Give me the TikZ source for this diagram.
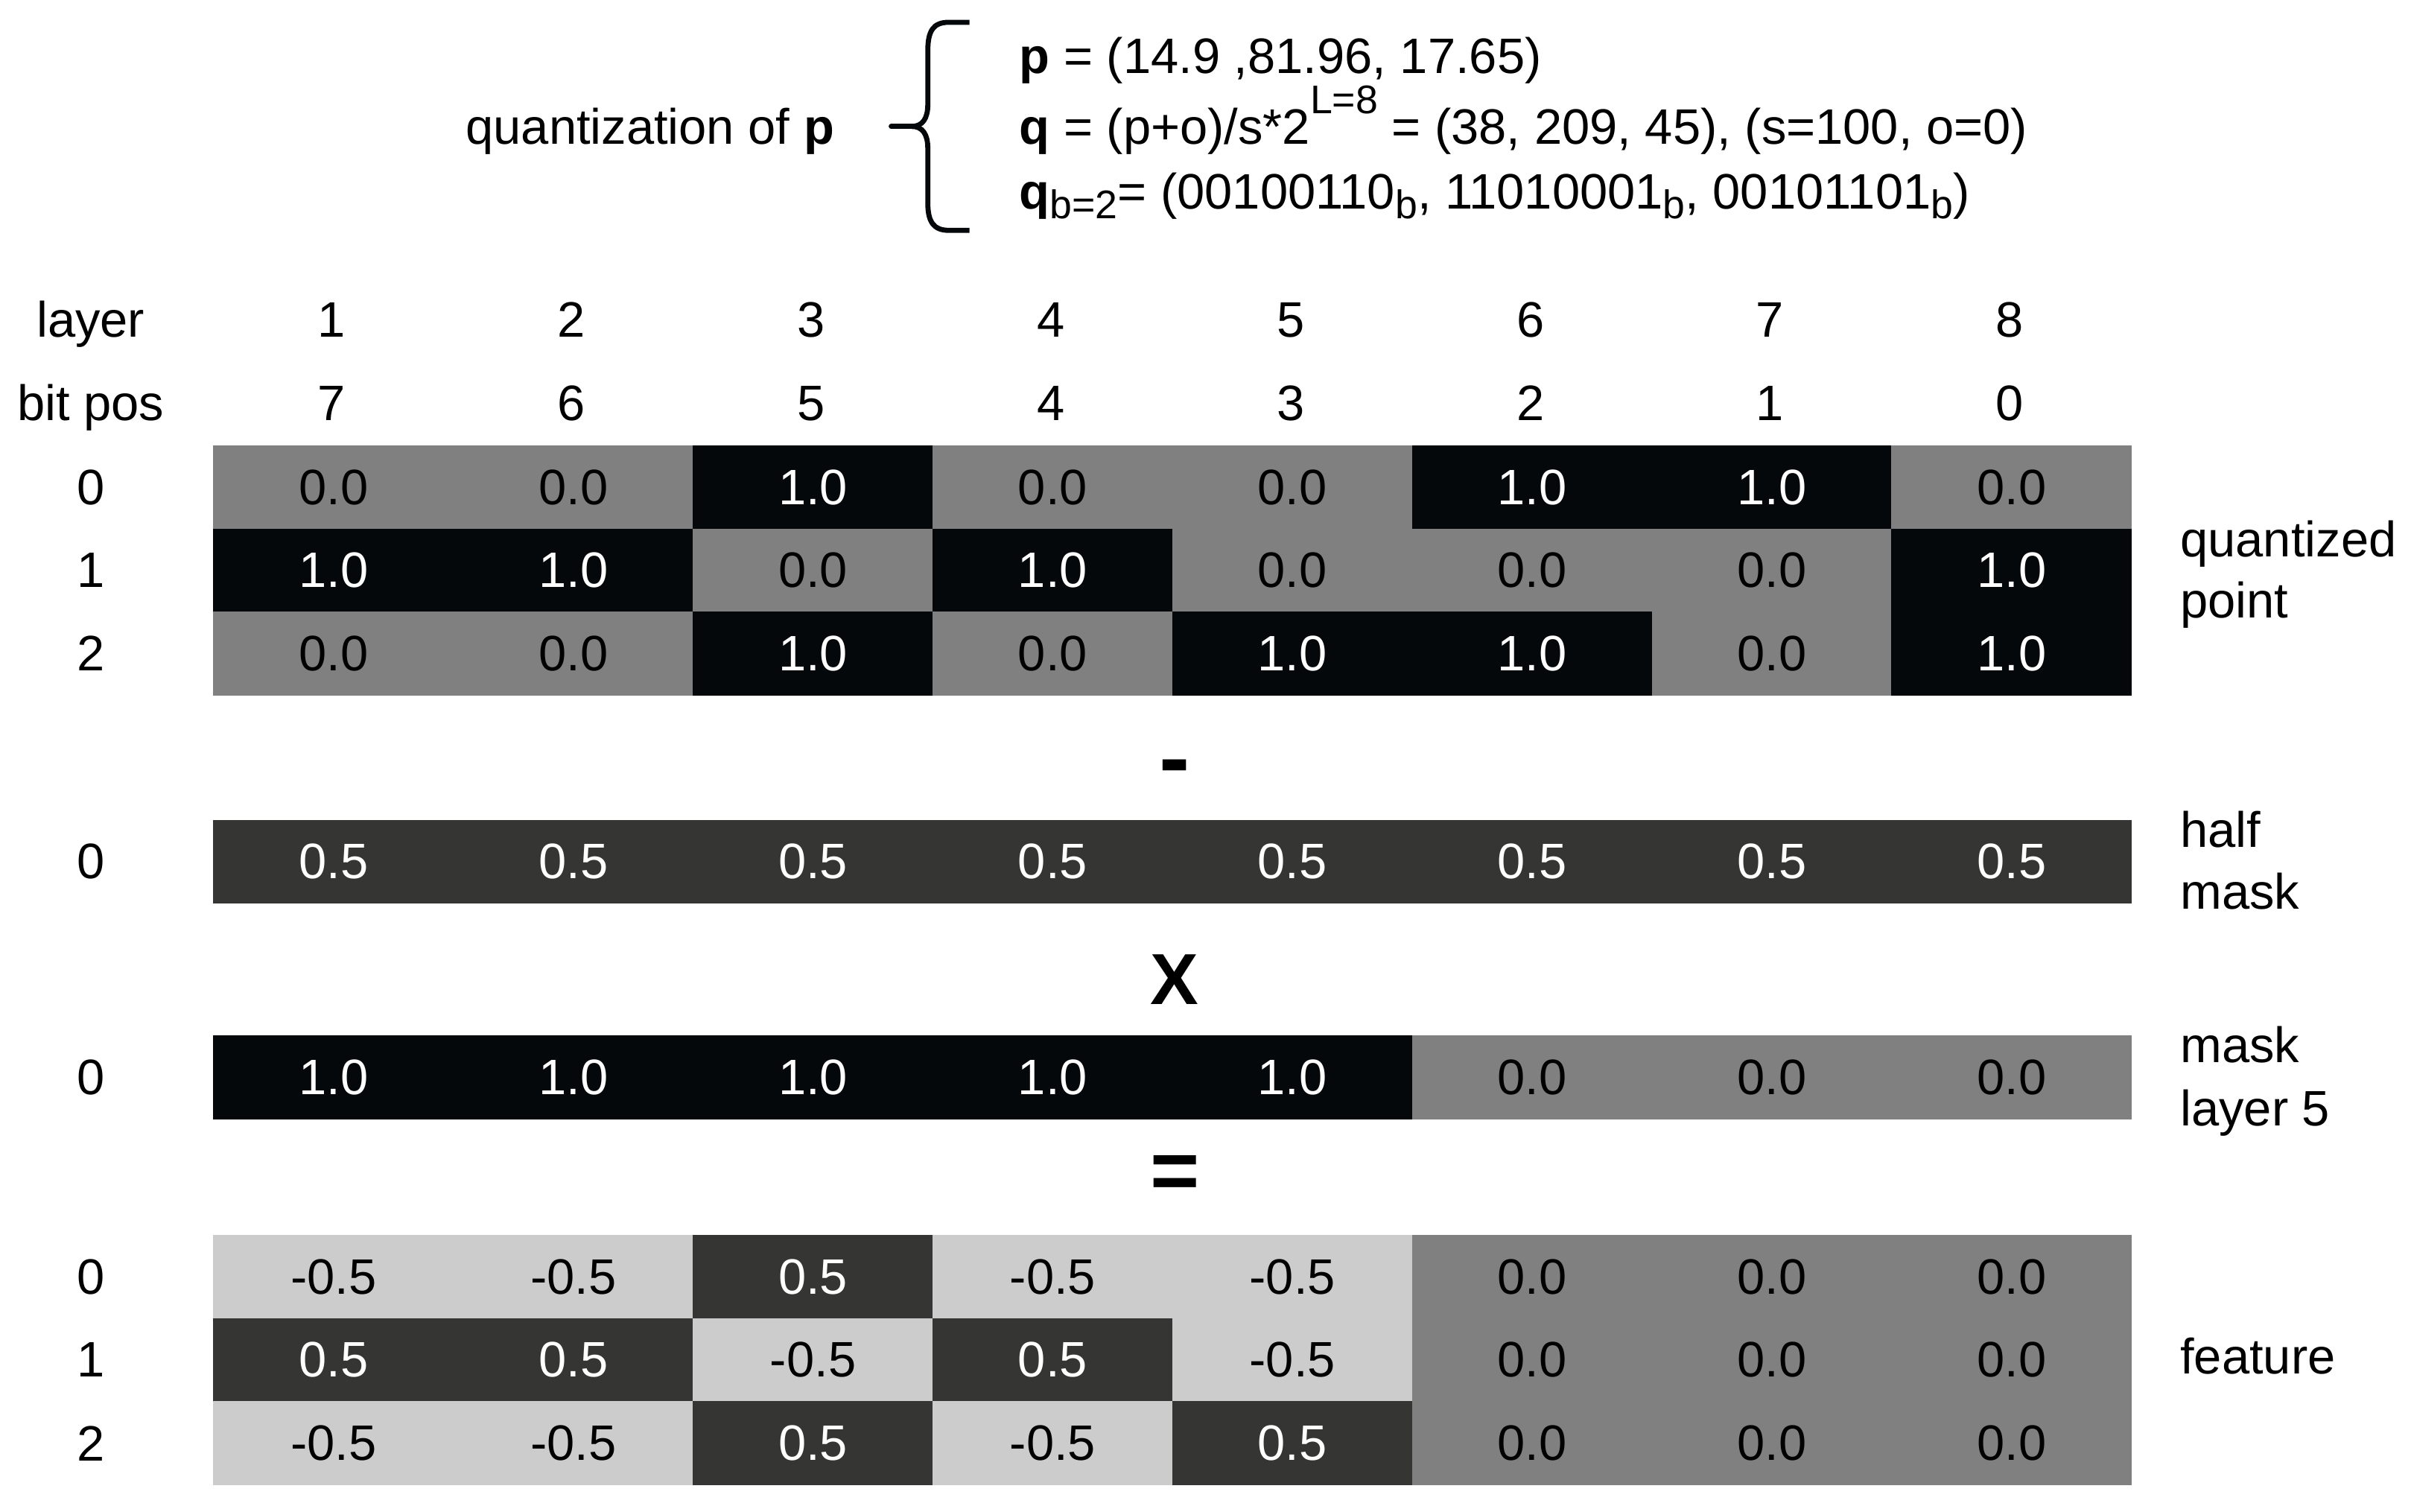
\documentclass[tikz,border=0pt]{standalone}
\usepackage{fontspec}
\setmainfont{Liberation Sans}
\definecolor{cgray}{HTML}{808080}
\definecolor{cblack}{HTML}{04080A}
\definecolor{cdark}{HTML}{353533}
\definecolor{clight}{HTML}{CCCCCC}
\newcommand{\smallsub}[1]{\raisebox{-6.5pt}{\fontsize{26}{26}\selectfont #1}}
\newcommand{\smallsup}[1]{\raisebox{20pt}{\fontsize{26}{26}\selectfont #1}}
\begin{document}
\begin{tikzpicture}[x=1pt,y=-1pt,
  txt/.style={font=\fontsize{32.4}{40}\selectfont, inner sep=0pt, outer sep=0pt},
  cell/.style={txt, minimum width=156.4pt, minimum height=54.5pt, anchor=center},
  g0/.style={cell, fill=cgray, text=black},
  g1/.style={cell, fill=cblack, text=white},
  gh/.style={cell, fill=cdark, text=white},
  gl/.style={cell, fill=clight, text=black},
  lbl/.style={txt, anchor=base},
  rlbl/.style={txt, anchor=base west},
  opsym/.style={inner sep=0pt, outer sep=0pt, anchor=base},
  bracestroke/.style={line width=3.3pt, line cap=round, draw=cblack}
]
\useasboundingbox (0,0) rectangle (1568,983.3);

% ---- quantization formula ----
\node[txt, anchor=base west] (qlabel) at (303,93.8) {quantization of \textbf{p}};
\coordinate (bracetop) at (630.5,14.5);
\coordinate (bracetip) at (579.6,82.2);
\coordinate (bracebot) at (630.5,149.8);
\draw[bracestroke, line cap=butt] (bracetop) -- (617,14.5)
  .. controls (607,14.5) and (603.4,20) .. (603.4,33) -- (603.4,68)
  .. controls (603.4,77) and (600,82.2) .. (593,82.2);
\draw[bracestroke, line cap=butt] (bracebot) -- (617,149.8)
  .. controls (607,149.8) and (603.4,144) .. (603.4,132) -- (603.4,96.4)
  .. controls (603.4,87.4) and (600,82.2) .. (593,82.2);
\draw[bracestroke] (593,82.2) -- (bracetip);
\node[txt, anchor=base west] (fp) at (663,47.8) {\textbf{p} = (14.9 ,81.96, 17.65)};
\node[txt, anchor=base west] (fq) at (663,93.8) {\textbf{q} = (p+o)/s*2\smallsup{L=8} = (38, 209, 45), (s=100, o=0)};
\node[txt, anchor=base west] (fb) at (663,135.8) {\textbf{q}\smallsub{b=2}= (00100110\smallsub{b}, 11010001\smallsub{b}, 00101101\smallsub{b})};

% ---- headers ----
\node[lbl] (hlayer) at (59,219) {layer};
\node[lbl] (hbit) at (59,273.5) {bit pos};
\foreach \b [count=\c] in {7,6,5,4,3,2,1,0} {
  \node[lbl] (layer-\c) at ({139+155.9*(\c-0.5)-1.2},219) {\c};
  \node[lbl] (bit-\c) at ({139+155.9*(\c-0.5)-1.2},273.5) {\b};
}

% ---- quantized point ----
\foreach \r/\y/\vals in {0/317/{0,0,1,0,0,1,1,0}, 1/371/{1,1,0,1,0,0,0,1}, 2/425/{0,0,1,0,1,1,0,1}} {
  \node[txt] (qrow-\r) at (59,\y) {\r};
  \foreach \v [count=\c] in \vals {
    \node[g\v] (q-\r-\c) at ({139+155.9*(\c-0.5)},\y) {\v.0};
  }
}
\node[rlbl] (lquant) at (1418,362) {quantized};
\node[rlbl] (lpoint) at (1418,402) {point};

% ---- minus ----
\node[opsym, font=\fontsize{60}{60}\selectfont\bfseries] (minus) at (764,513) {-};

% ---- half mask ----
\node[txt] (hrow) at (59,560.4) {0};
\foreach \c in {1,...,8} {
  \node[gh] (h-\c) at ({139+155.9*(\c-0.5)},560.4) {0.5};
}
\node[rlbl] (lhalf) at (1418,551) {half};
\node[rlbl] (lhmask) at (1418,591) {mask};

% ---- times ----
\node[opsym, font=\fontsize{47}{47}\selectfont\bfseries] (times) at (764,653.2) {X};

% ---- mask layer 5 ----
\node[txt] (mrow) at (59,700.7) {0};
\foreach \v [count=\c] in {1,1,1,1,1,0,0,0} {
  \node[g\v] (m-\c) at ({139+155.9*(\c-0.5)},700.7) {\v.0};
}
\node[rlbl] (lmask) at (1418,691) {mask};
\node[rlbl] (llayer) at (1418,732) {layer 5};

% ---- equals ----
\node[opsym, font=\fontsize{55}{55}\selectfont\bfseries] (equals) at (764,780) {=};

% ---- feature ----
\foreach \r/\y/\vals in {0/830.3/{gl/-0.5,gl/-0.5,gh/0.5,gl/-0.5,gl/-0.5,g0/0.0,g0/0.0,g0/0.0},
                        1/884.4/{gh/0.5,gh/0.5,gl/-0.5,gh/0.5,gl/-0.5,g0/0.0,g0/0.0,g0/0.0},
                        2/938.6/{gl/-0.5,gl/-0.5,gh/0.5,gl/-0.5,gh/0.5,g0/0.0,g0/0.0,g0/0.0}} {
  \node[txt] (frow-\r) at (59,\y) {\r};
  \foreach \s/\t [count=\c] in \vals {
    \node[\s] (f-\r-\c) at ({139+155.9*(\c-0.5)},\y) {\t};
  }
}
\node[rlbl] (lfeature) at (1418,893.6) {feature};
\end{tikzpicture}
\end{document}
